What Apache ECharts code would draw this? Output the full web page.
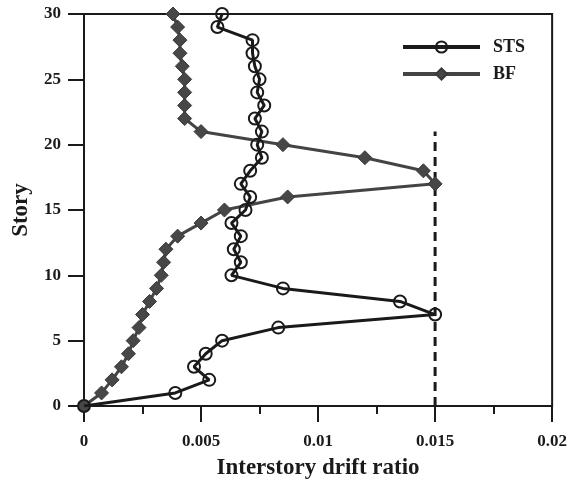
<!DOCTYPE html>
<html>
<head>
<meta charset="utf-8">
<script src="https://cdn.jsdelivr.net/npm/echarts@6/dist/echarts.min.js"></script>
<style>html,body{margin:0;padding:0;background:#fff;}#c{width:570px;height:485px;}</style>
</head>
<body>
<div id="c"></div>
<script>
// Data
const stories = [0,1,2,3,4,5,6,7,8,9,10,11,12,13,14,15,16,17,18,19,20,21,22,23,24,25,26,27,28,29,30];
const stsDrift = [0,0.0039,0.00535,0.0047,0.0052,0.0059,0.0083,0.015,0.0135,0.0085,0.0063,0.0067,0.0064,0.0067,0.0063,0.0069,0.0071,0.0067,0.0071,0.0076,0.0074,0.0076,0.0073,0.0077,0.0074,0.0075,0.0073,0.0072,0.0072,0.0057,0.0059];
const bfDrift = [0,0.00075,0.0012,0.0016,0.0019,0.0021,0.00235,0.0025,0.0028,0.0031,0.0033,0.0034,0.0035,0.0040,0.0050,0.0060,0.0087,0.0150,0.0145,0.0120,0.0085,0.0050,0.0043,0.0043,0.0043,0.0043,0.0042,0.0041,0.0041,0.0040,0.0038];
const limitDrift = [0.015, 0.015];
const limitStory = [0, 21];
const seriesNames = ['STS', 'BF'];
const xTicks = [0, 0.005, 0.01, 0.015, 0.02];
const yTicks = [0, 5, 10, 15, 20, 25, 30];

const pairs = (xs, ys) => xs.map((x, i) => [x, ys[i]]);
const font = 'Liberation Serif';
const ink = '#1a1a1a';

const chart = echarts.init(document.getElementById('c'), null, {renderer: 'canvas'});
chart.setOption({
  backgroundColor: '#fff',
  animation: false,
  grid: {left: 84, top: 14, right: 15, bottom: 79, show: true, borderColor: ink, borderWidth: 2, containLabel: false},
  legend: {
    orient: 'vertical', left: 396, top: 33,
    itemWidth: 77, itemHeight: 14, itemGap: 9,
    data: seriesNames,
    lineStyle: {width: 4},
    textStyle: {fontFamily: font, fontWeight: 'bold', fontSize: 18, color: ink, padding: [0, 0, 0, 8]}
  },
  xAxis: {
    type: 'value', min: xTicks[0], max: xTicks[xTicks.length - 1], interval: xTicks[1] - xTicks[0],
    name: 'Interstory drift ratio', nameLocation: 'middle', nameGap: 51,
    nameTextStyle: {fontFamily: font, fontWeight: 'bold', fontSize: 23, color: ink},
    axisLine: {onZero: false, lineStyle: {color: ink, width: 2}},
    axisTick: {inside: false, length: 16, lineStyle: {color: ink, width: 2}},
    minorTick: {show: true, splitNumber: 2, length: 8, lineStyle: {color: ink, width: 2}},
    splitLine: {show: false},
    axisLabel: {fontFamily: font, fontWeight: 'bold', fontSize: 17, color: ink, margin: 27,
      formatter: v => String(parseFloat(v.toFixed(4)))}
  },
  yAxis: {
    type: 'value', min: yTicks[0], max: yTicks[yTicks.length - 1], interval: yTicks[1] - yTicks[0],
    name: 'Story', nameLocation: 'middle', nameGap: 51,
    nameTextStyle: {fontFamily: font, fontWeight: 'bold', fontSize: 23, color: ink},
    axisLine: {onZero: false, lineStyle: {color: ink, width: 2}},
    axisTick: {inside: false, length: 16, lineStyle: {color: ink, width: 2}},
    splitLine: {show: false},
    axisLabel: {fontFamily: font, fontWeight: 'bold', fontSize: 17, color: ink, margin: 23}
  },
  series: [
    {
      name: 'limit', type: 'line', data: pairs(limitDrift, limitStory), symbol: 'none',
      lineStyle: {color: ink, width: 3, type: [9, 6]}, silent: true, z: 1
    },
    {
      name: seriesNames[1], type: 'line', data: pairs(bfDrift, stories),
      symbol: 'diamond', symbolSize: 14, z: 2,
      lineStyle: {color: '#444', width: 3},
      itemStyle: {color: '#474747', borderColor: '#3a3a3a', borderWidth: 1}
    },
    {
      name: seriesNames[0], type: 'line', data: pairs(stsDrift, stories),
      symbol: 'circle', symbolSize: 12, z: 3,
      lineStyle: {color: ink, width: 3},
      itemStyle: {color: 'rgba(255,255,255,0)', borderColor: ink, borderWidth: 2}
    }
  ]
});
</script>
</body>
</html>
